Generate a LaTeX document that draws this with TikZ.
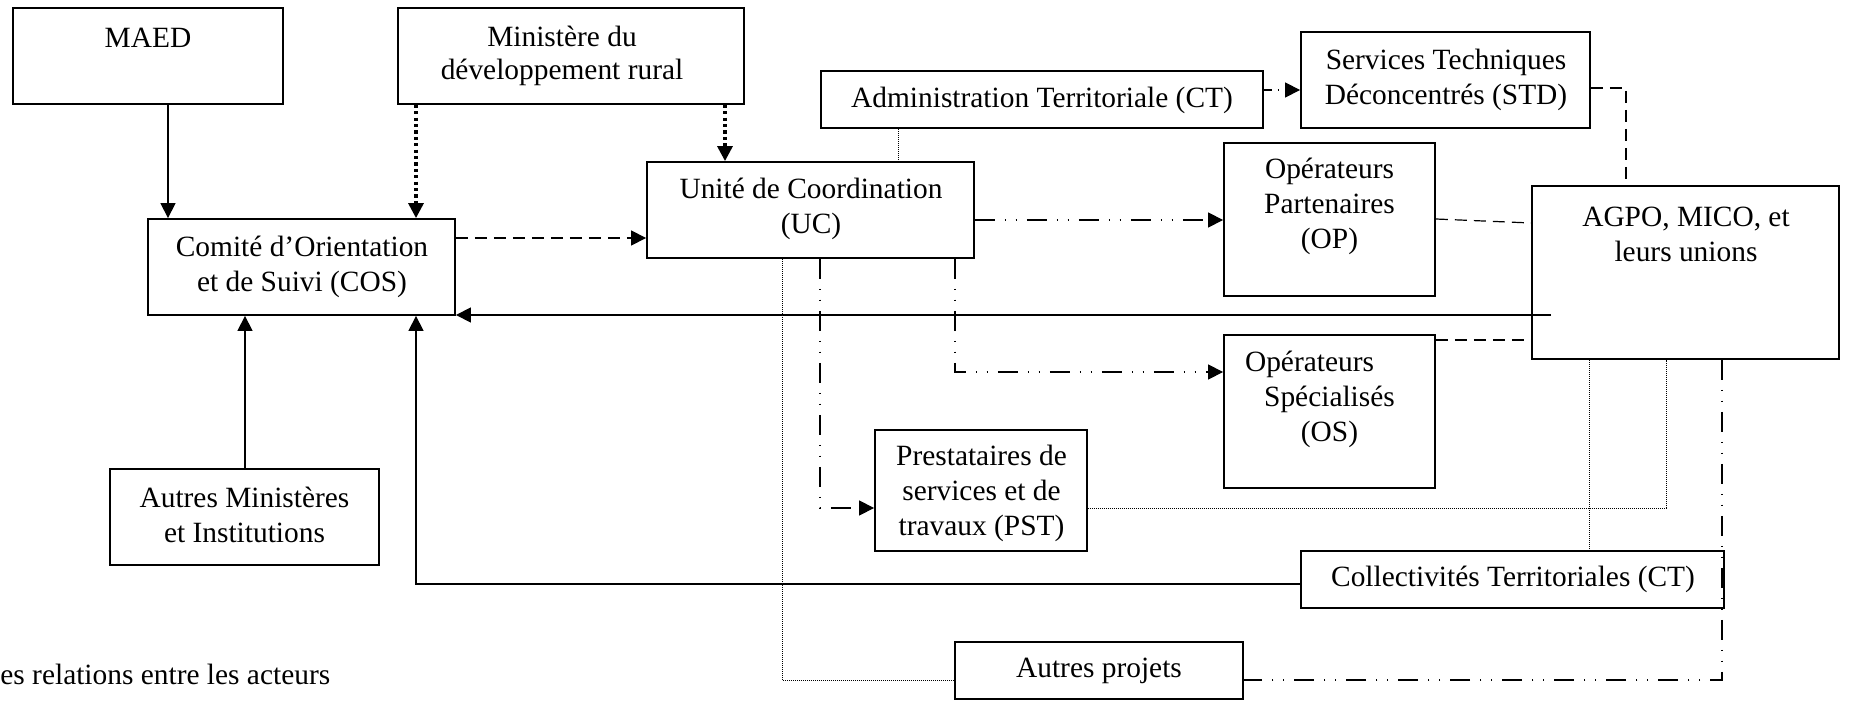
\documentclass[tikz,border=0pt]{standalone}
\usepackage{fontspec}
\setmainfont{Liberation Serif}
\usetikzlibrary{arrows.meta,fit}
\begin{document}
\begin{tikzpicture}[x=0.5pt,y=-0.5pt,
  box/.style={draw, line width=0.9pt, inner sep=0pt},
  txt/.style={inner sep=0pt, align=center, font=\fontsize{14.7}{17.5}\selectfont},
  tip/.style={-{Triangle[length=7.5pt,width=7.5pt]}},
  solidl/.style={line width=0.65pt},
  thickdot/.style={line width=1.6pt, dash pattern=on 1.6pt off 1.6pt},
  finedot/.style={line width=0.5pt, dash pattern=on 0.5pt off 0.5pt},
  dashl/.style={line width=0.6pt, dash pattern=on 6pt off 3.5pt},
  ddot/.style={line width=0.6pt, dash pattern=on 10pt off 5pt on 0.6pt off 4.8pt on 0.6pt off 5pt},
  ddotshort/.style={line width=0.6pt, dash pattern=on 4pt off 3pt on 0.6pt off 3pt on 0.6pt off 3pt}]
\useasboundingbox (0,0) rectangle (1849,701);
% boxes
\node[box, fit={(13,8) (283,104)}] (maed) {};
\node[txt] (maedt) at (148,38) {MAED};
\node[box, fit={(398,8) (744,104)}] (min) {};
\node[txt, font=\fontsize{14.7}{16.5}\selectfont] (mint) at (562,56) {Ministère du\\développement rural};
\node[box, fit={(148,219) (455,315)}] (cos) {};
\node[txt] (cost) at (302,267) {Comité d’Orientation\\et de Suivi (COS)};
\node[box, fit={(647,162) (974,258)}] (uc) {};
\node[txt] (uct) at (811,209) {Unité de Coordination\\(UC)};
\node[box, fit={(821,71) (1263,128)}] (adm) {};
\node[txt] (admt) at (1042,100) {Administration Territoriale (CT)};
\node[box, fit={(1301,32) (1590,128)}] (std) {};
\node[txt] (stdt) at (1446,79.5) {Services Techniques\\Déconcentrés (STD)};
\node[box, fit={(1224,143) (1435,296)}] (op) {};
\node[txt] (opt) at (1329.5,206) {Opérateurs\\Partenaires\\(OP)};
\node[box, fit={(1224,335) (1435,488)}] (os) {};
\node[txt] (ost) at (1329.5,399) {Opérateurs\hspace*{20pt}\\Spécialisés\\(OS)};
\node[box, fit={(1532,186) (1839,359)}] (agpo) {};
\node[txt] (agpot) at (1686,234) {AGPO, MICO, et\\leurs unions};
\node[box, fit={(875,430) (1087,551)}] (pst) {};
\node[txt] (pstt) at (981.5,493) {Prestataires de\\services et de\\travaux (PST)};
\node[box, fit={(110,469) (379,565)}] (ami) {};
\node[txt] (amit) at (244.5,515) {Autres Ministères\\et Institutions};
\node[box, fit={(1301,551) (1724,608)}] (ct) {};
\node[txt] (ctt) at (1513,579) {Collectivités Territoriales (CT)};
\node[box, fit={(955,642) (1243,699)}] (ap) {};
\node[txt] (apt) at (1099,671) {Autres projets};
\node[txt, anchor=west] (cap) at (0,674) {es relations entre les acteurs};
% connectors
\coordinate (c1) at (168,0);
\draw[solidl,tip] (maed.south -| c1) -- (cos.north -| c1);
\coordinate (c2) at (416,0);
\draw[thickdot,tip] (min.south -| c2) -- (cos.north -| c2);
\coordinate (c3) at (725,0);
\draw[thickdot,tip] (min.south -| c3) -- (uc.north -| c3);
\coordinate (c4) at (0,238);
\draw[dashl,tip] (cos.east |- c4) -- (uc.west |- c4);
\coordinate (c5) at (898,0);
\draw[finedot] (adm.south -| c5) -- (uc.north -| c5);
\coordinate (c6) at (0,90);
\draw[ddotshort,tip] (adm.east |- c6) -- (std.west |- c6);
\coordinate (c7) at (1626,88);
\draw[dashl] (std.east |- c7) -- (c7) -- (agpo.north -| c7);
\coordinate (c8) at (0,220);
\draw[ddot,tip] (uc.east |- c8) -- (op.west |- c8);
\coordinate (c9a) at (0,219);
\coordinate (c9b) at (0,223);
\draw[dashl] (op.east |- c9a) -- (agpo.west |- c9b);
\coordinate (c10) at (955,372);
\draw[ddot,tip] (uc.south -| c10) -- (c10) -- (os.west |- c10);
\coordinate (c11) at (0,340);
\draw[dashl] (os.east |- c11) -- (agpo.west |- c11);
\coordinate (c12) at (820,508);
\draw[ddot,tip] (uc.south -| c12) -- (c12) -- (pst.west |- c12);
\coordinate (c13) at (782,680);
\draw[finedot] (uc.south -| c13) -- (c13) -- (ap.west |- c13);
\coordinate (c14) at (1666,508);
\draw[finedot] (pst.east |- c14) -- (c14) -- (agpo.south -| c14);
\coordinate (c15) at (1589,0);
\draw[finedot] (agpo.south -| c15) -- (ct.north -| c15);
\coordinate (c16) at (1722,680);
\draw[ddot] (agpo.south -| c16) -- (c16) -- (ap.east |- c16);
\coordinate (c17) at (1551,315);
\draw[solidl,tip] (c17) -- (cos.east |- c17);
\coordinate (c18) at (245,0);
\draw[solidl,tip] (ami.north -| c18) -- (cos.south -| c18);
\coordinate (c19) at (416,584);
\draw[solidl,tip] (ct.west |- c19) -- (c19) -- (cos.south -| c19);
\end{tikzpicture}
\end{document}
